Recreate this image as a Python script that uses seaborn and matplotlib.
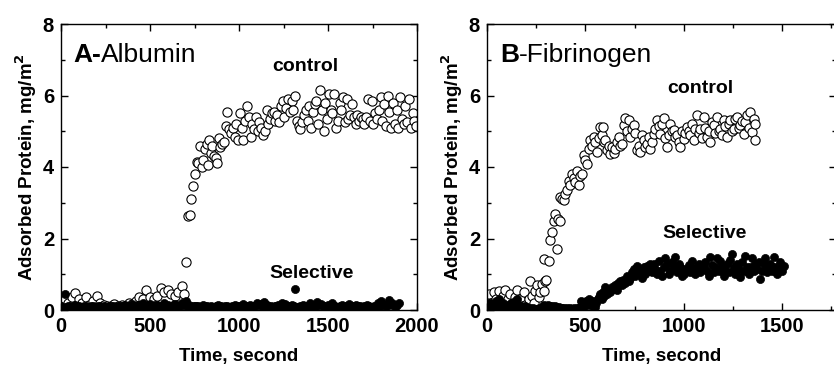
import matplotlib
matplotlib.use("Agg")
import matplotlib.pyplot as plt
import matplotlib.ticker as ticker
import seaborn as sns
import pandas as pd

# ---- A: albumin, control (open circles)
alb_ctrl_t = [0, 20, 40, 60, 80, 100, 120, 140, 160, 180, 200, 220, 240, 260, 280, 300, 320, 340, 360, 380,
              400, 420, 440, 460, 480, 500, 520, 540, 560, 580, 600, 620, 640, 660, 680, 690,
              705, 712, 725, 733, 742, 752, 762, 772, 782, 792, 800, 810, 818, 826, 834, 842, 850, 860, 868,
              878, 886, 896, 905, 915, 925, 935, 945, 955, 965, 975, 985, 995, 1005, 1015, 1025, 1035, 1045,
              1055, 1065, 1075, 1085, 1095, 1105, 1115, 1125, 1135, 1145, 1155, 1165, 1175, 1185, 1195, 1205,
              1215, 1225, 1235, 1245, 1255, 1265, 1275, 1285, 1295, 1305, 1315, 1325, 1335, 1345, 1355, 1365,
              1375, 1385, 1395, 1405, 1415, 1425, 1435, 1445, 1455, 1465, 1475, 1485, 1495, 1505, 1515, 1525,
              1535, 1545, 1555, 1565, 1575, 1585, 1595, 1605, 1615, 1625, 1635, 1645, 1655, 1665, 1675, 1685,
              1695, 1705, 1715, 1725, 1735, 1745, 1755, 1765, 1775, 1785, 1795, 1805, 1815, 1825, 1835, 1845,
              1855, 1865, 1875, 1885, 1895, 1905, 1915, 1925, 1935, 1945, 1955, 1965, 1975, 1985, 1995]
alb_ctrl_y = [0.25, 0.3, 0.2, 0.35, 0.48, 0.3, 0.2, 0.35, 0.15, 0.25, 0.38, 0.2, 0.15, 0.1, 0.12, 0.18, 0.1, 0.15, 0.12, 0.2,
              0.18, 0.25, 0.35, 0.3, 0.56, 0.35, 0.3, 0.4, 0.62, 0.5, 0.55, 0.45, 0.4, 0.5, 0.67, 0.45,
              1.33, 2.62, 2.66, 3.1, 3.48, 3.8, 4.15, 4.12, 4.58, 4.0, 4.2, 4.5, 4.65, 4.05, 4.75, 4.4, 4.6, 4.3, 4.25,
              4.12, 4.8, 4.55, 4.65, 4.7, 5.15, 5.55, 5.05, 4.95, 5.1, 4.85, 5.2, 4.75, 5.5, 5.1, 4.75, 5.3, 5.7,
              5.4, 4.85, 5.2, 5.05, 5.4, 5.0, 5.25, 5.1, 4.9, 5.0, 5.6, 5.2, 5.35, 5.5, 5.55, 5.3,
              5.45, 5.25, 5.7, 5.85, 5.4, 5.65, 5.9, 5.55, 5.85, 5.6, 6.0, 5.3, 5.15, 5.05, 5.25, 5.45,
              5.6, 5.3, 5.7, 5.1, 5.55, 5.75, 5.85, 5.2, 6.15, 5.6, 5.0, 5.8, 5.35, 6.05, 5.6, 5.5,
              6.05, 5.1, 5.3, 5.8, 5.6, 5.95, 5.25, 5.9, 5.35, 5.45, 5.75, 5.4, 5.2, 5.45, 5.3, 5.4,
              5.35, 5.2, 5.4, 5.9, 5.3, 5.85, 5.2, 5.5, 5.35, 5.6, 5.95, 5.3, 5.75, 5.15, 6.0, 5.55,
              5.1, 5.8, 5.2, 5.6, 5.1, 5.95, 5.35, 5.2, 5.7, 5.25, 5.9, 5.1, 5.5, 5.3, 5.15]

# ---- A: albumin, selective (filled circles)
alb_sel_t = [0, 25, 40, 60, 80, 100, 120, 140, 160, 180, 200, 220, 240, 260, 280, 300, 320, 340, 360, 380,
             400, 420, 440, 460, 480, 500, 520, 540, 560, 580, 600, 620, 640, 660, 680, 700, 720, 740, 760, 780,
             800, 820, 840, 860, 880, 900, 920, 940, 960, 980, 1000, 1020, 1040, 1060, 1080, 1100, 1120, 1140,
             1160, 1180, 1200, 1220, 1240, 1260, 1280, 1300, 1314, 1340, 1360, 1380, 1400, 1420, 1440, 1460,
             1480, 1500, 1520, 1540, 1560, 1580, 1600, 1620, 1640, 1660, 1680, 1700, 1720, 1740, 1760, 1780,
             1800, 1820, 1840, 1860, 1880, 1900,
             10, 30, 50, 70, 90, 110, 130, 150, 170, 190, 210, 230, 250, 270, 290, 310, 330, 350, 370, 390,
             410, 430, 450, 470, 490, 510, 530, 550, 570, 590, 610, 630, 650, 670, 690, 710, 730, 750, 770, 790,
             810, 830, 850, 870, 890, 910, 930, 950, 970, 990, 1010, 1030, 1050, 1070, 1090, 1110, 1130, 1150,
             1170, 1190, 1210, 1230, 1250, 1270, 1290, 1310, 1330, 1350, 1370, 1390, 1410, 1430, 1450, 1470,
             1490, 1510, 1530, 1550, 1570, 1590, 1610, 1630, 1650, 1670, 1690, 1710, 1730, 1750, 1770, 1790,
             1810, 1830, 1850, 1870, 1890]
alb_sel_y = [0.1, 0.45, 0.12, 0.08, 0.15, 0.1, 0.05, 0.12, 0.08, 0.1, 0.06, 0.12, 0.1, 0.05, 0.1, 0.08, 0.12, 0.1, 0.15, 0.12,
             0.18, 0.1, 0.15, 0.2, 0.12, 0.18, 0.1, 0.15, 0.12, 0.2, 0.15, 0.1, 0.18, 0.12, 0.2, 0.25, 0.15, 0.1, 0.12, 0.08,
             0.15, 0.1, 0.12, 0.08, 0.15, 0.1, 0.12, 0.08, 0.12, 0.15, 0.1, 0.18, 0.12, 0.15, 0.1, 0.2, 0.18, 0.22,
             0.15, 0.1, 0.12, 0.15, 0.2, 0.18, 0.12, 0.15, 0.58, 0.1, 0.15, 0.12, 0.2, 0.15, 0.22, 0.18,
             0.1, 0.15, 0.2, 0.12, 0.08, 0.15, 0.12, 0.18, 0.1, 0.15, 0.12, 0.1, 0.15, 0.08, 0.12, 0.2,
             0.25, 0.15, 0.28, 0.2, 0.12, 0.2,
             0.05, 0.08, 0.1, 0.05, 0.12, 0.08, 0.1, 0.05, 0.12, 0.06, 0.1, 0.08, 0.05, 0.1, 0.12, 0.06, 0.1, 0.08, 0.12, 0.1,
             0.08, 0.15, 0.1, 0.12, 0.08, 0.12, 0.15, 0.08, 0.1, 0.12, 0.08, 0.15, 0.1, 0.12, 0.15, 0.1, 0.08, 0.12, 0.1, 0.05,
             0.1, 0.08, 0.05, 0.1, 0.12, 0.06, 0.1, 0.05, 0.08, 0.1, 0.12, 0.08, 0.1, 0.06, 0.12, 0.15, 0.1, 0.12,
             0.08, 0.05, 0.1, 0.08, 0.12, 0.1, 0.06, 0.1, 0.08, 0.05, 0.1, 0.08, 0.12, 0.1, 0.15, 0.1,
             0.08, 0.1, 0.12, 0.06, 0.1, 0.08, 0.12, 0.1, 0.08, 0.1, 0.06, 0.08, 0.1, 0.05, 0.08, 0.12,
             0.15, 0.1, 0.18, 0.12, 0.15]

# ---- B: fibrinogen, control
fib_ctrl_t = [0, 8, 20, 34, 45, 59, 70, 80, 93, 105, 119, 130, 140, 153, 162, 170, 178, 186, 195, 205,
              212, 220, 230, 238, 246, 255, 262, 271, 280, 288, 295, 302,
              290, 314, 319, 331, 339, 347, 356, 362, 369, 373, 382, 390, 398, 407, 415, 424, 432, 440,
              449, 458, 466, 475, 483, 492, 500, 508, 517, 525, 533, 542, 550, 559, 567, 576, 583, 590,
              596, 602, 610, 618, 627, 636, 644, 653, 661, 669, 678, 686, 695, 703, 712, 720, 729, 737,
              746, 754, 763, 771, 780, 788, 797, 805, 814, 822, 831, 839, 847, 856, 864, 873, 881, 890,
              898, 907, 915, 924, 932, 940, 949, 958, 966, 975, 983, 992, 1000, 1008, 1017, 1025, 1034,
              1042, 1051, 1059, 1068, 1076, 1085, 1093, 1102, 1110, 1119, 1127, 1136, 1144, 1153, 1161,
              1169, 1178, 1186, 1195, 1203, 1212, 1220, 1229, 1237, 1246, 1254, 1263, 1271, 1280, 1288,
              1297, 1305, 1314, 1322, 1330, 1339, 1347, 1356, 1361, 1364]
fib_ctrl_y = [0.35, 0.45, 0.2, 0.5, 0.3, 0.54, 0.25, 0.4, 0.56, 0.3, 0.45, 0.2, 0.35, 0.56, 0.2, 0.3, 0.1, 0.5, 0.15, 0.05,
              0.3, 0.82, 0.4, 0.2, 0.54, 0.7, 0.35, 0.5, 0.73, 0.54, 0.8, 0.84,
              1.43, 1.36, 1.96, 2.18, 2.49, 2.69, 1.71, 2.55, 2.5, 3.16, 3.1, 3.07, 3.25, 3.35, 3.6, 3.49, 3.81, 3.7,
              3.58, 3.9, 3.49, 3.75, 3.81, 4.33, 4.2, 4.09, 4.51, 4.75, 4.6, 4.84, 4.7, 4.42, 4.8, 5.12, 4.9, 5.12,
              4.7, 4.75, 4.47, 4.6, 4.37, 4.56, 4.4, 4.51, 4.7, 4.84, 4.6, 4.65, 5.17, 5.36, 5.0, 5.31, 4.84, 5.05,
              5.17, 4.95, 4.47, 4.6, 4.42, 4.89, 4.75, 4.55, 4.65, 4.85, 4.51, 4.7, 4.93, 5.05, 5.31, 5.15, 4.93, 5.2,
              5.36, 4.8, 4.56, 4.9, 5.21, 5.0, 5.03, 4.85, 4.89, 4.7, 4.56, 5.0, 4.79, 4.95, 5.12, 5.0, 4.89,
              5.2, 4.75, 5.05, 5.45, 4.95, 5.07, 4.8, 5.4, 5.1, 4.84, 5.0, 4.7, 5.25, 5.17, 4.95,
              5.4, 5.0, 5.07, 4.9, 5.31, 5.15, 4.84, 5.2, 5.31, 5.0, 5.07, 5.35, 5.4, 5.1, 5.17,
              5.3, 4.93, 5.25, 5.45, 5.1, 5.54, 4.98, 5.35, 4.75, 5.21]

# ---- B: fibrinogen, selective
fib_sel_t = [0, 8, 15, 22, 30, 38, 45, 52, 60, 68, 75, 82, 90, 98, 105, 112, 120, 128, 135, 142,
             150, 158, 165, 172, 180, 188, 195, 202, 210, 218, 225, 232, 240, 248, 255, 262, 270, 278, 285, 292,
             300, 308, 315, 322, 330, 338, 345, 352, 360, 368, 375, 382, 390, 398, 405, 412, 420, 428, 435, 442,
             450, 458, 465, 472, 480, 488, 495, 502, 510, 518, 525, 532, 540, 548, 555, 562, 570, 576, 584, 590,
             596, 602, 610, 618, 626, 636, 644, 652, 660, 668, 678, 686, 694, 702, 712, 720, 728, 736, 746, 754,
             763, 771, 780, 788, 797, 805, 814, 822, 831, 839, 847, 856, 864, 873, 881, 890, 898, 907, 915, 924,
             932, 941, 949, 958, 966, 975, 983, 992, 1000, 1008, 1017, 1025, 1034, 1042, 1051, 1059, 1068, 1076,
             1085, 1093, 1102, 1110, 1119, 1127, 1136, 1144, 1153, 1161, 1169, 1178, 1186, 1195, 1203, 1212, 1220,
             1229, 1237, 1246, 1254, 1263, 1271, 1280, 1288, 1297, 1305, 1314, 1322, 1330, 1339, 1347, 1356, 1364,
             1373, 1381, 1390, 1398, 1407, 1415, 1424, 1432, 1441, 1449, 1458, 1466, 1475, 1483, 1492, 1500, 1508]
fib_sel_y = [0.15, 0.05, 0.2, 0.1, 0.05, 0.15, 0.25, 0.1, 0.3, 0.15, 0.05, 0.2, 0.1, 0.05, 0.15, 0.1, 0.2, 0.05, 0.1, 0.25,
             0.3, 0.15, 0.05, 0.1, 0.08, 0.05, 0.1, 0.05, 0.03, 0.05, 0.03, 0.05, 0.02, 0.04, 0.02, 0.05, 0.03, 0.05, 0.1, 0.15,
             0.12, 0.15, 0.12, 0.1, 0.12, 0.08, 0.1, 0.08, 0.06, 0.08, 0.05, 0.06, 0.05, 0.04, 0.05, 0.04, 0.05, 0.03, 0.04, 0.05,
             0.03, 0.05, 0.04, 0.08, 0.25, 0.2, 0.1, 0.25, 0.15, 0.3, 0.2, 0.12, 0.25, 0.08, 0.2, 0.3, 0.35, 0.45, 0.3, 0.5,
             0.4, 0.64, 0.45, 0.55, 0.5, 0.64, 0.6, 0.7, 0.55, 0.75, 0.82, 0.7, 0.85, 0.75, 0.96, 0.8, 0.9, 1.05, 1.15, 0.95,
             1.24, 1.05, 1.1, 0.9, 1.2, 1.0, 1.24, 1.1, 1.3, 1.05, 1.29, 1.15, 1.0, 1.38, 1.1, 0.95, 1.2, 1.45, 1.3, 1.0,
             1.1, 1.35, 1.2, 1.48, 1.05, 1.3, 1.2, 0.95, 1.0, 1.15, 1.1, 1.25, 1.05, 1.38, 1.15, 1.0, 1.2, 1.3,
             1.05, 1.15, 1.2, 1.35, 1.1, 0.95, 1.48, 1.25, 1.05, 1.2, 1.45, 1.1, 1.38, 1.2, 0.95, 1.1, 1.3,
             1.05, 1.4, 1.57, 1.2, 1.0, 1.29, 1.15, 0.92, 1.35, 1.1, 1.52, 1.2, 1.0, 1.2, 1.45, 1.1, 1.29,
             1.15, 1.35, 0.87, 1.1, 1.29, 1.45, 1.05, 1.2, 1.3, 1.1, 1.48, 1.2, 1.0, 1.15, 1.34, 1.1, 1.24]

sns.set_theme(style="ticks")
plt.rcParams['font.family'] = ['Liberation Sans', 'DejaVu Sans']
plt.rcParams['font.weight'] = 'bold'
plt.rcParams['text.color'] = 'black'
plt.rcParams['axes.labelcolor'] = 'black'
plt.rcParams['xtick.color'] = 'black'
plt.rcParams['ytick.color'] = 'black'

fig = plt.figure(figsize=(8.34, 3.68), dpi=100)
ax_a = fig.add_axes([61 / 834, 58 / 368, 356 / 834, 286 / 368])
ax_b = fig.add_axes([487 / 834, 58 / 368, 348.5 / 834, 286 / 368])


def draw_panel(ax, ct, cy, st, sy, xmax, title_a, title_b, ctrl_xy, sel_xy, title_x):
    ctrl = pd.DataFrame({"t": ct, "y": cy})
    sel = pd.DataFrame({"t": st, "y": sy})
    sns.scatterplot(data=ctrl, x="t", y="y", ax=ax, s=44, facecolor="white",
                    edgecolor="black", linewidth=0.8, zorder=2, legend=False)
    sns.scatterplot(data=sel, x="t", y="y", ax=ax, s=34, color="black",
                    edgecolor="black", linewidth=0.5, zorder=3, legend=False)
    ax.set_xlim(0, xmax)
    ax.set_ylim(0, 8)
    ax.xaxis.set_major_locator(ticker.MultipleLocator(500))
    ax.xaxis.set_minor_locator(ticker.MultipleLocator(250))
    ax.yaxis.set_major_locator(ticker.MultipleLocator(2))
    ax.yaxis.set_minor_locator(ticker.MultipleLocator(1))
    ax.tick_params(which="both", direction="in", top=True, right=True, width=1, colors="black")
    ax.tick_params(which="major", length=5, labelsize=14.5, pad=5)
    ax.tick_params(which="minor", length=3)
    for lbl in ax.get_xticklabels() + ax.get_yticklabels():
        lbl.set_fontweight("bold")
    for sp in ax.spines.values():
        sp.set_visible(True)
        sp.set_linewidth(1)
        sp.set_color("black")
    ax.set_xlabel("Time, second", fontsize=13.5, fontweight="bold", labelpad=9)
    ax.set_ylabel("Adsorbed Protein, mg/m$^\\mathbf{2}$", fontsize=13.5, fontweight="bold", labelpad=3)
    t1 = ax.text(title_x, 6.95, title_a, fontsize=19, fontweight="bold", va="baseline", ha="left")
    fig.canvas.draw()
    bb = t1.get_window_extent().transformed(ax.transData.inverted())
    ax.text(bb.x1, 6.95, title_b, fontsize=19, fontweight="normal", va="baseline", ha="left")
    ax.text(ctrl_xy[0], ctrl_xy[1], "control", fontsize=14, fontweight="bold", ha="center", va="center")
    ax.text(sel_xy[0], sel_xy[1], "Selective", fontsize=14, fontweight="bold", ha="center", va="center")


draw_panel(ax_a, alb_ctrl_t, alb_ctrl_y, alb_sel_t, alb_sel_y, 2000, "A-", "Albumin",
           (1372, 6.8), (1405, 1.03), 67)
draw_panel(ax_b, fib_ctrl_t, fib_ctrl_y, fib_sel_t, fib_sel_y, 1772, "B", "-Fibrinogen",
           (1083, 6.2), (1108, 2.15), 66)

fig.savefig("out.png", dpi=100)
